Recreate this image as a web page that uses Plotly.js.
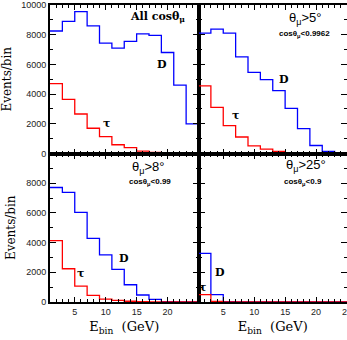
<!DOCTYPE html>
<html><head><meta charset="utf-8">
<script src="https://cdn.plot.ly/plotly-3.0.1.min.js"></script>
<style>html,body{margin:0;padding:0;background:#fff}#plot{width:347px;height:340px}</style>
</head><body><div id="plot"></div>
<script>
// Bin edges (GeV), 2 GeV bins
const binEdges = [1, 3, 5, 7, 9, 11, 13, 15, 17, 19, 21, 23, 25];
// Events/bin per panel
const D_all   = [8250, 8900, 9550, 8600, 7430, 7100, 7550, 8050, 7950, 6800, 4600, 2000];
const tau_all = [4700, 3640, 2660, 1700, 1140, 590, 390, 160, 70, 30, 10, 0];
const D_5     = [8100, 8370, 8100, 6500, 5460, 4970, 4240, 3040, 1680, 540, 140, 20];
const tau_5   = [4560, 3110, 1880, 1110, 520, 290, 140, 50, 20, 10, 0, 0];
const D_8     = [7710, 7380, 6040, 4290, 3180, 2200, 1160, 470, 180, 20, 0, 0];
const tau_8   = [4130, 2240, 1070, 440, 200, 110, 50, 20, 10, 0, 0, 0];
const D_25    = [3270, 490, 20, 0, 0, 0, 0, 0, 0, 0, 0, 0];
const tau_25  = [490, 40, 0, 0, 0, 0, 0, 0, 0, 0, 0, 0];
const yTickVals = [0, 2000, 4000, 6000, 8000, 10000];
const yTickText = ['0', '2000', '4000', '6000', '8000', '10000'];
const yTickTextLower = ['0', '2000', '4000', '6000', '8000', ''];
const xTickValsLeft = [5, 10, 15, 20];
const xTickValsRight = [5, 10, 15, 20, 25];

function step(vals){ return vals.concat([vals[vals.length-1]]); }
function tr(vals, color, xa, ya){
  return {x: binEdges, y: step(vals), type:'scatter', mode:'lines',
    line:{shape:'hv', color:color, width:1.3}, xaxis:xa, yaxis:ya, hoverinfo:'skip', showlegend:false};
}
const BLUE='#0000ff', RED='#ff0000';
const data = [
  tr(D_all, BLUE,'x','y'), tr(tau_all, RED,'x','y'),
  tr(D_5, BLUE,'x2','y2'), tr(tau_5, RED,'x2','y2'),
  tr(D_8, BLUE,'x3','y3'), tr(tau_8, RED,'x3','y3'),
  tr(D_25, BLUE,'x4','y4'), tr(tau_25, RED,'x4','y4')
];

const tickFont = {family:'Liberation Sans, Arial, sans-serif', size:9, color:'#222'};
const serif = 'DejaVu Serif, serif';
function xax(domain, anchor, labels, tickvals, title){
  const a = {domain:domain, anchor:anchor, range:[1,25], showgrid:false, zeroline:false,
    showline:true, linecolor:'#000', linewidth:2, mirror:'allticks',
    ticks:'inside', ticklen:5, tickwidth:1, tickcolor:'#000',
    tickmode:'array', tickvals:tickvals, ticktext:tickvals.map(String),
    showticklabels:labels, tickfont:tickFont, ticklabeloverflow:'allow',
    minor:{tickmode:'linear', tick0:1, dtick:1, ticks:'inside', ticklen:3, tickwidth:1, tickcolor:'#000'}};
  if (title) a.title = {text:title, font:{family:serif, size:13, color:'#000'}, standoff:6};
  return a;
}
function yax(domain, anchor, labels, ticktext, title){
  const a = {domain:domain, anchor:anchor, range:[0,10000], showgrid:false, zeroline:false,
    showline:true, linecolor:'#000', linewidth:2, mirror:'allticks',
    ticks:'inside', ticklen:6, tickwidth:1, tickcolor:'#000',
    tickmode:'array', tickvals:yTickVals, ticktext:ticktext, showticklabels:labels, tickfont:tickFont,
    minor:{tickmode:'linear', tick0:0, dtick:1000, ticks:'inside', ticklen:3, tickwidth:1, tickcolor:'#000'}};
  if (title) a.title = {text:title, font:{family:serif, size:12, color:'#000'}, standoff:8};
  return a;
}

const sansB = {family:'Liberation Sans, Arial, sans-serif', size:13, color:'#000'};
const smallB = {family:'Liberation Sans, Arial, sans-serif', size:8, color:'#000'};
const dFont = {family:'DejaVu Serif, serif', size:11, color:'#000'};
function ann(xref, yref, x, y, text, font){
  return {xref:xref, yref:yref, x:x, y:y, text:text, showarrow:false, font:font, xanchor:'center', yanchor:'middle'};
}
const annotations = [
  ann('x','y',18.4,9160,'<b>All cosθ<sub>μ</sub></b>',{family:serif,size:11,color:'#000'}),
  ann('x','y',19.1,5990,'<b>D</b>',dFont),
  ann('x','y',10.05,2020,'<b>τ</b>',dFont),
  ann('x2','y2',18.3,9060,'θ<sub>μ</sub>>5°',sansB),
  ann('x2','y2',18.1,8080,'<b>cosθ<sub>μ</sub>&lt;0.9962</b>',smallB),
  ann('x2','y2',14.8,4980,'<b>D</b>',dFont),
  ann('x2','y2',7.0,2560,'<b>τ</b>',dFont),
  ann('x3','y3',16.9,9060,'θ<sub>μ</sub>>8°',sansB),
  ann('x3','y3',17.2,8080,'<b>cosθ<sub>μ</sub>&lt;0.99</b>',smallB),
  ann('x3','y3',12.95,2960,'<b>D</b>',dFont),
  ann('x3','y3',6.0,1950,'<b>τ</b>',dFont),
  ann('x4','y4',18.4,9200,'θ<sub>μ</sub>>25°',sansB),
  ann('x4','y4',17.85,8080,'<b>cosθ<sub>μ</sub>&lt;0.9</b>',smallB),
  ann('x4','y4',4.44,2020,'<b>D</b>',dFont),
  ann('x4','y4',1.7,1010,'<b>τ</b>',dFont)
];

const layout = {
  width:347, height:340, margin:{l:50, r:0, t:5, b:38},
  paper_bgcolor:'#fff', plot_bgcolor:'#fff', showlegend:false,
  xaxis:  xax([0,0.5],'y',false,xTickValsLeft),
  xaxis2: xax([0.5,1],'y2',false,xTickValsRight),
  xaxis3: xax([0,0.5],'y3',true,xTickValsLeft,'E<sub>bin</sub>  (GeV)'),
  xaxis4: xax([0.5,1],'y4',true,xTickValsRight,'E<sub>bin</sub>  (GeV)'),
  yaxis:  yax([0.5,1],'x',true,yTickText,'Events/bin'),
  yaxis2: yax([0.5,1],'x2',false,yTickText),
  yaxis3: yax([0,0.5],'x3',true,yTickTextLower,'Events/bin'),
  yaxis4: yax([0,0.5],'x4',false,yTickText),
  annotations: annotations
};
Plotly.newPlot('plot', data, layout, {staticPlot:true, displayModeBar:false});
</script></body></html>
